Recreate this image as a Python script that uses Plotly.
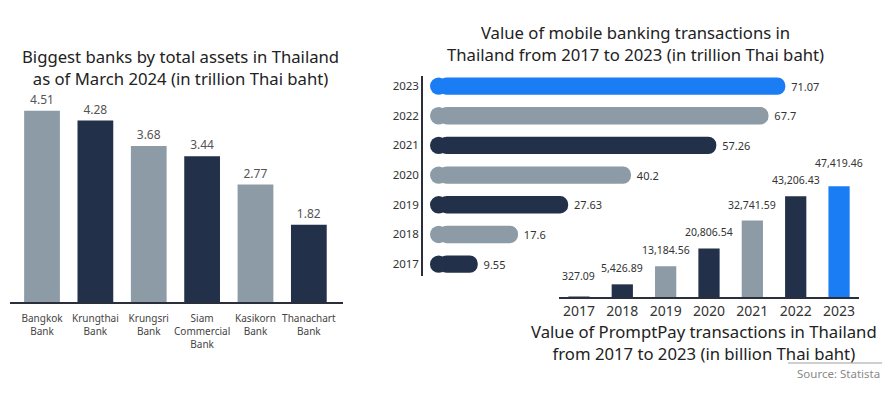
import plotly.graph_objects as go

W, H = 892, 404

# ---------------- data ----------------
banks = ["Bangkok<br>Bank", "Krungthai<br>Bank", "Krungsri<br>Bank",
         "Siam<br>Commercial<br>Bank", "Kasikorn<br>Bank", "Thanachart<br>Bank"]
bank_assets = [4.51, 4.28, 3.68, 3.44, 2.77, 1.82]
bank_labels = ["4.51", "4.28", "3.68", "3.44", "2.77", "1.82"]

mb_years = ["2017", "2018", "2019", "2020", "2021", "2022", "2023"]
mb_values = [9.55, 17.6, 27.63, 40.2, 57.26, 67.7, 71.07]
mb_labels = ["9.55", "17.6", "27.63", "40.2", "57.26", "67.7", "71.07"]

pp_years = ["2017", "2018", "2019", "2020", "2021", "2022", "2023"]
pp_values = [327.09, 5426.89, 13184.56, 20806.54, 32741.59, 43206.43, 47419.46]
pp_labels = ["327.09", "5,426.89", "13,184.56", "20,806.54", "32,741.59", "43,206.43", "47,419.46"]

# ---------------- styles ----------------
GRAY = "#8C9BA6"
NAVY = "#22304A"
BLUE = "#1B7DF4"
FONT = "Noto Sans"
TITLE_SIZE = 16.7

bank_colors = [GRAY, NAVY, GRAY, NAVY, GRAY, NAVY]
mb_colors = [NAVY, GRAY, NAVY, GRAY, NAVY, GRAY, BLUE]
pp_colors = [GRAY, NAVY, GRAY, NAVY, GRAY, NAVY, BLUE]
pp_label_shift = {"2017": 11, "2023": 14}

def px_x(p):
    return p / W

def px_y(p):  # p measured from top
    return 1 - p / H

fig = go.Figure()

# ---- left chart ----
fig.add_trace(go.Bar(
    x=banks, y=bank_assets, marker=dict(color=bank_colors, line=dict(width=0)),
    width=0.67, text=bank_labels, textposition="outside", cliponaxis=False,
    textfont=dict(size=12, color="#555555", family=FONT),
    xaxis="x", yaxis="y", hoverinfo="skip",
))

# ---- top right chart (pill-shaped horizontal bars) ----
BAR_W2 = 0.585
UNIT_Y2 = 29.67  # px per category
PX_PER_UNIT_X2 = 5.0
thick_px = BAR_W2 * UNIT_Y2
cap = thick_px / 2 / PX_PER_UNIT_X2  # radius in data units
fig.add_trace(go.Bar(
    y=mb_years, x=[v - cap for v in mb_values], base=cap, orientation="h",
    width=BAR_W2, marker=dict(color=mb_colors, cornerradius="50%", line=dict(width=0)),
    text=["\u00a0" + t for t in mb_labels], textposition="outside", cliponaxis=False,
    textfont=dict(size=11, color="#333333", family=FONT),
    xaxis="x2", yaxis="y2", hoverinfo="skip",
))
fig.add_trace(go.Scatter(
    y=mb_years, x=[cap] * len(mb_years), mode="markers",
    marker=dict(color=mb_colors, size=thick_px, symbol="circle", line=dict(width=0)),
    xaxis="x2", yaxis="y2", hoverinfo="skip", cliponaxis=False,
))

# ---- bottom right chart ----
fig.add_trace(go.Bar(
    x=pp_years, y=pp_values, marker=dict(color=pp_colors, line=dict(width=0)),
    width=0.49, xaxis="x3", yaxis="y3", hoverinfo="skip", cliponaxis=False,
))

annotations = []
for i, (yr, v, lab) in enumerate(zip(pp_years, pp_values, pp_labels)):
    annotations.append(dict(
        x=i, y=v, xref="x3", yref="y3", text=lab, showarrow=False,
        yanchor="bottom", yshift=pp_label_shift.get(yr, 7),
        font=dict(size=10.5, color="#333333", family=FONT),
    ))

# titles (two lines each)
def title(text, cx, cy, size=TITLE_SIZE, color="#222222"):
    annotations.append(dict(
        x=px_x(cx), y=px_y(cy), xref="paper", yref="paper", text=text,
        showarrow=False, xanchor="center", yanchor="middle", align="center",
        font=dict(size=size, color=color, family=FONT),
    ))

title("Biggest banks by total assets in Thailand<br>as of March 2024 (in trillion Thai baht)", 180, 67.5)
title("Value of mobile banking transactions in<br>Thailand from 2017 to 2023 (in trillion Thai baht)", 635, 44)
title("Value of PromptPay transactions in Thailand<br>from 2017 to 2023 (in billion Thai baht)", 704, 342)

annotations.append(dict(
    x=px_x(882), y=px_y(373), xref="paper", yref="paper", text="Source: Statista",
    showarrow=False, xanchor="right", yanchor="middle",
    font=dict(size=11.5, color="#8A8A8A", family=FONT),
))

shapes = [dict(type="line", xref="paper", yref="paper",
               x0=px_x(788), x1=px_x(882), y0=px_y(363), y1=px_y(363),
               line=dict(color="#A0A0A0", width=1))]

fig.update_layout(
    width=W, height=H, margin=dict(l=0, r=0, t=0, b=0),
    paper_bgcolor="white", plot_bgcolor="rgba(0,0,0,0)",
    barmode="overlay", showlegend=False,
    font=dict(family=FONT, color="#333333"),
    annotations=annotations, shapes=shapes,
    xaxis=dict(domain=[px_x(10), px_x(343)], anchor="y", type="category",
               range=[-0.6, 5.64], showline=True, linecolor="#2B2F3A", linewidth=1.5,
               showgrid=False, zeroline=False, ticks="", fixedrange=True,
               ticklabelstandoff=6,
               tickfont=dict(size=10, color="#444444", family=FONT)),
    yaxis=dict(domain=[1 - 302 / H, 1 - 90 / H], anchor="x", range=[0, 5],
               visible=False, fixedrange=True),
    xaxis2=dict(domain=[px_x(423), px_x(873)], anchor="y2",
                range=[-7 / PX_PER_UNIT_X2, (873 - 430) / PX_PER_UNIT_X2],
                visible=False, fixedrange=True),
    yaxis2=dict(domain=[1 - 276 / H, 1 - 76 / H], anchor="x2", type="category",
                range=[-0.4, 6.34], showline=True, linecolor="#2B2F3A", linewidth=1.5,
                showgrid=False, zeroline=False, ticks="", fixedrange=True,
                tickfont=dict(size=11.5, color="#333333", family=FONT)),
    xaxis3=dict(domain=[px_x(559), px_x(859)], anchor="y3", type="category",
                range=[-0.46, 6.46], showline=True, linecolor="#2B2F3A", linewidth=2,
                showgrid=False, zeroline=False, ticks="", fixedrange=True,
                tickfont=dict(size=14, color="#333333", family=FONT)),
    yaxis3=dict(domain=[1 - 297 / H, 1 - 157 / H], anchor="x3", range=[0, 60000],
                visible=False, fixedrange=True),
)

fig.write_html("out.html", config={"displayModeBar": False},
               post_script="document.body.style.margin='0';document.body.style.padding='0';")
